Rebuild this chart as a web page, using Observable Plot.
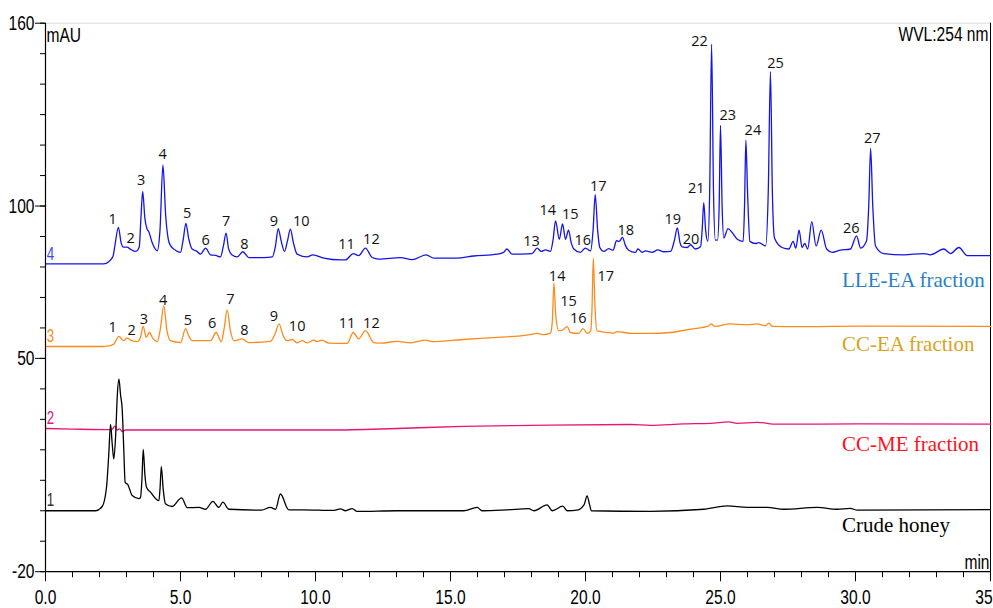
<!DOCTYPE html>
<html>
<head>
<meta charset="utf-8">
<script src="https://cdn.jsdelivr.net/npm/d3@7"></script>
<script src="https://cdn.jsdelivr.net/npm/@observablehq/plot@0.6"></script>
<style>
  html, body { margin: 0; padding: 0; background: #fff; overflow: hidden; }
  #chart svg { display: block; }
</style>
</head>
<body>
<div id="chart"></div>
<script>
// ---- data: [retention time (min), absorbance (mAU)] ----
const lleEA = [
[0,81.0],[1.0,81.0],[2.15,81.0],[2.35,81.8],[2.5,83.5],[2.57,87.0],[2.70,93.0],[2.80,88.0],[2.88,86.5],[3.02,86.5],[3.15,85.8],[3.33,85.1],[3.47,86.5],[3.54,97],[3.60,104.8],[3.68,96],[3.76,92.5],[3.83,91.5],[3.95,88],[4.14,85.3],[4.24,92],[4.35,113.5],[4.45,97],[4.55,89],[4.63,87.0],[4.80,85.6],[5.0,84.8],[5.10,89],[5.20,94.3],[5.30,89.5],[5.43,85.9],[5.60,85.2],[5.74,84.2],[5.93,86.2],[6.11,84.0],[6.30,83.8],[6.48,83.3],[6.58,86.5],[6.69,91.1],[6.78,86],[6.90,84.0],[7.10,83.3],[7.31,85.0],[7.53,83.1],[8.09,83.1],[8.40,83.3],[8.52,87],[8.62,92.6],[8.73,88.5],[8.85,85.1],[8.96,88.5],[9.07,92.4],[9.18,88],[9.32,84.2],[9.69,83.3],[9.90,84.0],[10.31,82.9],[10.93,82.3],[11.11,82.3],[11.40,84.4],[11.60,83.7],[11.85,86.2],[12.10,83.1],[12.35,82.6],[13.15,83.1],[13.58,82.4],[14.10,84.0],[14.38,82.9],[15.24,82.9],[15.86,83.6],[16.73,84.2],[16.97,84.8],[17.09,85.9],[17.28,84.2],[18.02,84.4],[18.21,86.2],[18.36,85.1],[18.52,85.6],[18.70,85.1],[18.80,89],[18.89,95.1],[19.03,89.1],[19.15,94.1],[19.26,89.1],[19.37,92.1],[19.47,88],[19.57,85.9],[19.81,84.8],[20.0,86.2],[20.19,85.3],[20.28,92],[20.36,103.7],[20.45,92],[20.53,86.4],[20.68,85.1],[20.86,86.0],[21.02,85.5],[21.15,88.6],[21.25,88.4],[21.37,89.7],[21.48,87],[21.60,85.5],[21.85,84.8],[21.94,85.9],[22.10,84.8],[22.22,85.3],[22.47,84.8],[22.68,85.6],[22.90,85.0],[23.15,85.1],[23.30,89],[23.40,92.8],[23.50,88],[23.58,86.6],[23.77,86.4],[23.89,87.3],[24.07,85.9],[24.26,86.6],[24.32,92],[24.38,101.1],[24.45,92],[24.53,88.4],[24.60,105],[24.67,153.1],[24.74,105],[24.81,88.8],[24.89,88.8],[24.95,100],[25.0,126.5],[25.06,100],[25.12,89.5],[25.28,92.6],[25.43,91.3],[25.62,89.1],[25.84,88.4],[25.89,100],[25.94,121.6],[26.0,105],[26.09,88.4],[26.30,87.7],[26.42,88.0],[26.67,86.9],[26.77,105],[26.85,144.1],[26.92,105],[27.0,89.5],[27.28,86.4],[27.53,85.9],[27.69,88.4],[27.79,86.2],[27.91,92.1],[28.02,86.4],[28.12,87.7],[28.23,85.9],[28.38,94.9],[28.54,86.9],[28.73,92.1],[28.93,85.9],[29.14,84.8],[29.44,85.5],[29.81,85.9],[30.04,90.2],[30.19,86.2],[30.41,88.6],[30.49,100],[30.56,118.9],[30.64,100],[30.74,86.9],[31.05,84.4],[31.79,84.0],[32.53,84.4],[32.78,84.0],[33.27,85.9],[33.52,84.4],[33.83,86.4],[34.14,83.7],[35,83.7]
];
const ccEA = [
[0,53.9],[2.04,53.9],[2.40,54.2],[2.53,54.7],[2.72,57.2],[2.90,55.8],[3.02,56.7],[3.20,55.8],[3.40,55.5],[3.52,57],[3.62,60.5],[3.73,56.9],[3.85,58.5],[3.98,56.5],[4.14,55.5],[4.26,60],[4.38,67.3],[4.50,59],[4.63,55.8],[5.0,55.2],[5.19,59.8],[5.30,57.5],[5.43,55.8],[6.11,55.8],[6.32,58.5],[6.51,55.5],[6.62,60],[6.73,65.9],[6.85,59],[6.98,55.8],[7.28,56.4],[7.53,55.2],[8.33,55.6],[8.50,58],[8.65,61.3],[8.80,57.5],[8.95,55.8],[9.14,56.2],[9.32,55.1],[9.51,55.8],[9.69,55.1],[9.94,56.0],[10.06,55.5],[10.25,56.0],[10.49,55.0],[11.17,54.9],[11.40,58.5],[11.60,56.4],[11.85,59.1],[12.16,55.2],[12.41,55.0],[13.02,55.6],[13.52,55.1],[14.10,56.0],[14.32,55.5],[15.49,56.2],[16.73,56.9],[17.96,57.8],[18.21,58.2],[18.46,57.8],[18.70,58.3],[18.77,62],[18.83,74.6],[18.90,64],[19.01,59.1],[19.15,59.3],[19.32,60.4],[19.44,58.5],[19.75,58.2],[19.91,59.8],[20.06,58.2],[20.19,58.9],[20.24,66],[20.29,82.9],[20.35,67],[20.43,59.0],[21.05,58.3],[21.17,58.8],[21.70,58.2],[22.41,58.2],[23.15,58.5],[23.89,59.6],[24.57,60.7],[24.65,61.3],[24.80,60.5],[25.35,61.3],[25.99,61.0],[26.36,61.3],[26.67,60.7],[26.79,61.6],[26.91,60.5],[27.96,60.4],[30.06,60.6],[35,60.5]
];
const ccME = [
[0,27.0],[1.0,26.8],[2.45,26.6],[2.57,27.8],[2.65,26.5],[2.75,26.9],[2.84,26.0],[2.96,26.5],[5,26.5],[10.56,26.5],[13.02,27.0],[15.49,27.7],[17.96,28.0],[21.67,28.3],[22.41,28.0],[23.64,28.5],[24.63,28.7],[25.31,29.2],[25.62,28.7],[26.36,29.0],[27.1,28.4],[30.06,28.5],[35,28.4]
];
const crude = [
[0,0],[1.85,0],[2.10,1.4],[2.26,7.7],[2.34,18],[2.41,28.3],[2.47,22],[2.53,17.0],[2.60,25],[2.66,38],[2.72,43.2],[2.78,38],[2.84,33.4],[2.90,20],[2.95,9.3],[3.05,8.6],[3.21,5.0],[3.46,4.0],[3.52,4.4],[3.57,10],[3.62,20.1],[3.68,12],[3.74,7.7],[3.89,6.1],[4.20,3.3],[4.24,7],[4.29,14.5],[4.36,7],[4.44,2.3],[4.69,1.4],[5.04,4.2],[5.25,1.0],[5.68,1.1],[5.93,0.5],[6.20,3.1],[6.42,1.1],[6.57,2.8],[6.79,0.5],[8.0,0.2],[8.33,1.1],[8.52,0.5],[8.70,5.5],[9.01,0.3],[9.51,0.3],[10.68,0.1],[10.93,0.6],[11.11,0.0],[11.36,0.7],[11.54,-0.2],[13.02,0.0],[15.49,0.0],[15.99,1.1],[16.17,0],[17.09,0.3],[17.90,0.7],[18.09,0],[18.58,1.9],[18.77,0],[19.16,1.5],[19.32,0],[19.69,0.2],[19.95,2],[20.06,4.9],[20.15,2],[20.22,0],[22.41,-0.2],[24.38,0.5],[25.25,1.6],[25.99,1.1],[26.73,1.1],[27.35,0.5],[28.58,1.1],[29.32,0.5],[29.81,0.8],[30.06,0.2],[35,0.4]
];

// peak numbers: [label, time, mAU]
const lleEAPeaks = [
["1",2.49,95.7],["2",3.15,89.5],["3",3.54,108.5],["4",4.34,116.8],["5",5.25,97.7],["6",5.93,88.8],["7",6.69,95.0],["8",7.37,87.5],["9",8.46,95.0],["10",9.47,95.0],["11",11.15,87.5],["12",12.07,88.9],["13",18.00,88.3],["14",18.60,98.6],["15",19.44,97.3],["16",19.90,88.8],["17",20.47,106.4],["18",21.49,91.9],["19",23.23,95.7],["20",23.91,89.1],["21",24.10,105.7],["22",24.22,153.9],["23",25.27,129.6],["24",26.20,124.9],["25",27.04,146.7],["26",29.84,92.6],["27",30.62,122.1]
];
const ccEAPeaks = [
["1",2.49,60.2],["2",3.19,59.3],["3",3.64,62.9],["4",4.36,69.2],["5",5.27,62.6],["6",6.17,61.5],["7",6.85,69.5],["8",7.37,59.3],["9",8.46,63.7],["10",9.32,60.4],["11",11.17,61.6],["12",12.07,61.6],["14",18.95,77.0],["15",19.37,68.6],["16",19.73,63.2],["17",20.75,77.0]
];

// trace names and numbers
const seriesNames = ["LLE-EA fraction","CC-EA fraction","CC-ME fraction","Crude honey"];
const seriesNameAt = [[29.5,75.7],[29.5,54.7],[29.5,21.9],[29.5,-4.9]];
const traceNumbers = ["4","3","2","1"];
const traceNumberAt = [[0.05,84.0],[0.05,57.1],[0.05,30.2],[0.05,3.3]];

// axes
const xMajor = [0,5,10,15,20,25,30,35];
const xMinor = d3.range(0,36,1);
const yMajor = [160,100,50,-20];
const yMinor = d3.range(-20,161,10);

const traceColors = ["#1414e8","#ff8a1c","#e8147a","#000000"];
const nameColors = ["#2a80c4","#d9a21c","#ff1020","#000000"];
const numColors = ["#3344ff","#ff8a1c","#e8147a","#333333"];

const names = seriesNames.map((s,i)=>({s, t:seriesNameAt[i][0], v:seriesNameAt[i][1], c:nameColors[i]}));
const nums = traceNumbers.map((s,i)=>({s, t:traceNumberAt[i][0], v:traceNumberAt[i][1], c:numColors[i]}));

const sans = "'Liberation Sans',Arial,sans-serif";
const peakFont = "'Open Sans','Noto Sans',sans-serif";
const bigSize = 20.5;   // axis + header text (condensed below)
const numSize = 17.5;   // trace numbers (condensed below)

const chart = Plot.plot({
  width: 993,
  height: 608,
  marginLeft: 45,
  marginRight: 3,
  marginTop: 22.7,
  marginBottom: 36.8,
  x: {domain: [0,35]},
  y: {domain: [-20,160]},
  style: {fontFamily: sans, background: "#fff", color: "#000"},
  marks: [
    Plot.ruleY([160], {stroke: "#d9d9d9", strokeWidth: 1}),
    Plot.ruleX([35], {stroke: "#000", strokeWidth: 1}),
    Plot.line(lleEA, {x: d=>d[0], y: d=>d[1], stroke: traceColors[0], strokeWidth: 1.3, curve: "monotone-x"}),
    Plot.line(ccEA, {x: d=>d[0], y: d=>d[1], stroke: traceColors[1], strokeWidth: 1.3, curve: "monotone-x"}),
    Plot.line(ccME, {x: d=>d[0], y: d=>d[1], stroke: traceColors[2], strokeWidth: 1.3, curve: "monotone-x"}),
    Plot.line(crude, {x: d=>d[0], y: d=>d[1], stroke: traceColors[3], strokeWidth: 1.3, curve: "monotone-x"}),
    Plot.text(lleEAPeaks, {x: d=>d[1], y: d=>d[2], text: d=>d[0], fontSize: 14.5, fontFamily: peakFont, fill: "#111"}),
    Plot.text(ccEAPeaks, {x: d=>d[1], y: d=>d[2], text: d=>d[0], fontSize: 14.5, fontFamily: peakFont, fill: "#111"}),
    Plot.text(names, {x: "t", y: "v", text: "s", fill: "c", textAnchor: "start", fontSize: 21, fontFamily: "'Liberation Serif','Times New Roman',serif"}),
    Plot.text(nums, {x: "t", y: "v", text: "s", fill: "c", textAnchor: "start", fontSize: numSize}),
    Plot.text(["mAU"], {frameAnchor: "top-left", dx: 1, dy: 4, fontSize: bigSize}),
    Plot.text(["WVL:254 nm"], {frameAnchor: "top-right", dx: -2, dy: 3, fontSize: bigSize}),
    Plot.text(["min"], {frameAnchor: "bottom-right", dx: -1, dy: -3, fontSize: bigSize}),
    Plot.axisY({ticks: yMinor, tickSize: 5, tickFormat: () => "", label: null}),
    Plot.axisY({ticks: yMajor, tickSize: 10, tickPadding: 1, fontSize: bigSize, tickFormat: d => String(d), label: null}),
    Plot.axisX({ticks: xMinor, tickSize: 6, tickFormat: () => "", label: null}),
    Plot.axisX({ticks: xMajor, tickSize: 10, tickPadding: 7.5, fontSize: bigSize, tickFormat: d3.format(".1f"), label: null}),
    Plot.ruleX([0], {stroke: "#000", strokeWidth: 1.2}),
    Plot.ruleY([-20], {stroke: "#000", strokeWidth: 1.2})
  ]
});
document.getElementById("chart").appendChild(chart);

// condensed look (like Arial Narrow): squeeze text horizontally about its own anchor
const squeeze = 0.76;
try {
  const svg = chart.tagName.toLowerCase() === "svg" ? chart : chart.querySelector("svg");
  svg.querySelectorAll("text").forEach(t => {
    const fsAttr = t.closest("[font-size]");
    const fs = fsAttr ? fsAttr.getAttribute("font-size") : null;
    if (fs !== String(bigSize) && fs !== String(numSize)) return;
    const list = t.transform.baseVal;
    const m = list.numberOfItems ? list.consolidate().matrix : svg.createSVGMatrix();
    let x = 0;
    if (t.x.baseVal.numberOfItems === 1) x = t.x.baseVal.getItem(0).value;
    else if (t.x.baseVal.numberOfItems > 1) return;
    const vals = [m.a, m.b, m.c, m.d, m.e, m.f, x];
    if (!vals.every(Number.isFinite)) return;
    t.setAttribute("transform", `matrix(${m.a},${m.b},${m.c},${m.d},${m.e},${m.f}) translate(${x},0) scale(${squeeze},1)`);
    t.removeAttribute("x");
  });
} catch (e) { console.log(e); }
</script>
</body>
</html>
